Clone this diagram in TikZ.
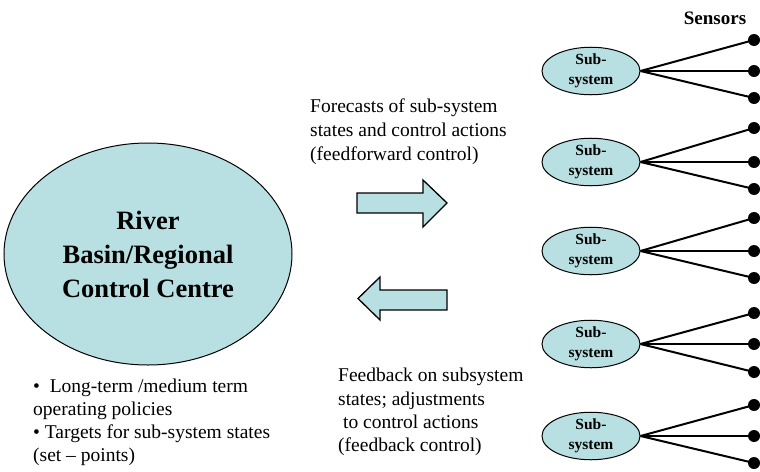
\documentclass[tikz,border=0pt]{standalone}
\usepackage{fontspec}
\setmainfont{Liberation Serif}
\usetikzlibrary{shapes.geometric}
\definecolor{paleteal}{RGB}{184,224,226}
\begin{document}
\begin{tikzpicture}[x=1pt,y=-1pt,
  sub/.style={ellipse,draw,fill=paleteal,line width=1pt,minimum width=98pt,minimum height=46pt,inner sep=0pt,align=center,font=\fontsize{15.5}{19.5}\selectfont\bfseries},
  wire/.style={line width=2pt},
  dot/.style={circle,fill=black,minimum size=12pt,inner sep=0pt},
  txt/.style={anchor=north west,align=left,inner sep=0pt,font=\fontsize{19.5}{24}\selectfont},
  bigarrow/.style={draw,fill=paleteal,line width=1.3pt,line join=miter}]
\useasboundingbox (0,0) rectangle (760,471);
\node[ellipse,draw,fill=paleteal,line width=1pt,minimum width=288pt,minimum height=222pt,inner sep=0pt,align=center,font=\fontsize{26.5}{34}\selectfont\bfseries] (rc) at (148,254) {River\\Basin/Regional\\Control Centre};
\node[font=\fontsize{19}{22}\selectfont\bfseries] (sens) at (715,18) {Sensors};
\foreach \i/\y/\a/\b in {1/71/40/98, 2/162/128/189, 3/251/218/278, 4/344/313/372, 5/436/405/463}{
  \node[sub] (s\i) at (591,\y) {Sub-\\system};
  \node[dot] (d\i a) at (754,\a) {};
  \node[dot] (d\i b) at (754,\y) {};
  \node[dot] (d\i c) at (754,\b) {};
  \draw[wire] (s\i.east) -- (d\i a.center);
  \draw[wire] (s\i.east) -- (d\i b.center);
  \draw[wire] (s\i.east) -- (d\i c.center);
}
\draw[bigarrow] (357,193) -- (423,193) -- (423,180) -- (447,203) -- (423,227) -- (423,213) -- (357,213) -- cycle;
\draw[bigarrow] (447,290) -- (380,290) -- (380,277) -- (358,298.5) -- (380,320) -- (380,310) -- (447,310) -- cycle;
\node[txt] (fc) at (310,99) {Forecasts of sub-system\\states and control actions\\(feedforward control)};
\node[txt,font=\fontsize{19.5}{23.3}\selectfont] (fb) at (338,368) {Feedback on subsystem\\states; adjustments\\\ to control actions\\(feedback control)};
\node[txt,font=\fontsize{19.5}{23}\selectfont] (pol) at (33,379) {\textbullet\ \ Long-term /medium term\\operating policies\\\textbullet\ Targets for sub-system states\\(set -- points)};
\end{tikzpicture}
\end{document}
